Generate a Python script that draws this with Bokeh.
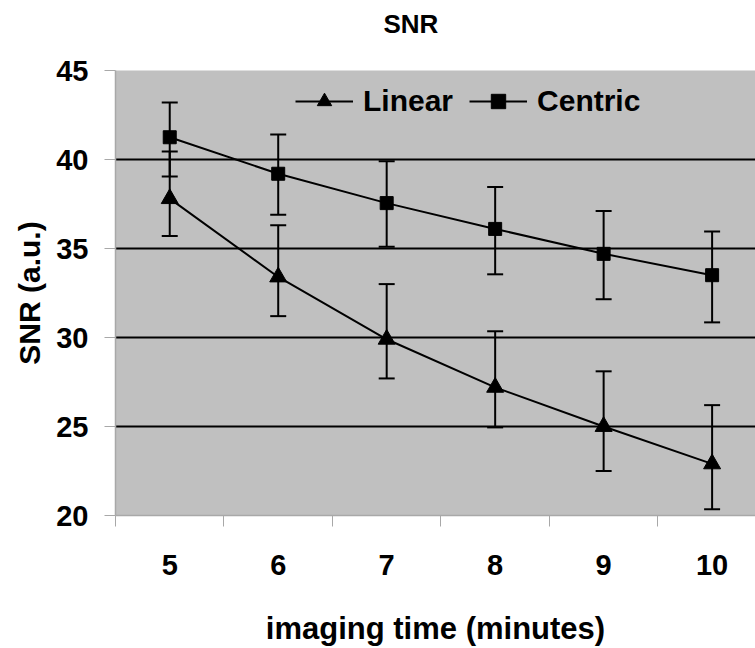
from bokeh.plotting import figure
from bokeh.models import (ColumnDataSource, Range1d, FixedTicker, Whisker, TeeHead,
                          Legend, LegendItem)
from bokeh.embed import file_html
from bokeh.resources import INLINE

# ---- data ----
times = [5, 6, 7, 8, 9, 10]
tick_labels = ["5", "6", "7", "8", "9", "10"]
linear = [37.8, 33.4, 29.9, 27.2, 25.0, 22.9]
linear_hi = [40.45, 36.3, 33.0, 30.35, 28.1, 26.2]
linear_lo = [35.7, 31.2, 27.7, 24.95, 22.5, 20.35]
centric = [41.25, 39.2, 37.55, 36.1, 34.7, 33.5]
centric_hi = [43.2, 41.4, 39.9, 38.45, 37.1, 35.95]
centric_lo = [39.05, 36.9, 35.1, 33.55, 32.15, 30.85]
y_ticks = [20, 25, 30, 35, 40, 45]
grid_ticks = [25, 30, 35, 40]
cat_bounds = [4.5, 5.5, 6.5, 7.5, 8.5, 9.5, 10.5]
title_text = "SNR"

FONT = "Liberation Sans"

src_l = ColumnDataSource(dict(x=times, y=linear, hi=linear_hi, lo=linear_lo))
src_c = ColumnDataSource(dict(x=times, y=centric, hi=centric_hi, lo=centric_lo))

p = figure(width=755, height=648, output_backend="svg", toolbar_location=None,
           x_range=Range1d(4.5, 10.4), y_range=Range1d(20, 45),
           min_border_left=115, min_border_right=0, min_border_top=70,
           min_border_bottom=132)
p.background_fill_color = "#C0C0C0"
p.border_fill_color = "white"
p.outline_line_color = None

# title: a blank second line lifts it higher in the top border
p.title.text = title_text + "\n"
p.title.text_font = FONT
p.title.text_font_size = "26px"
p.title.text_font_style = "bold"
p.title.text_color = "black"
p.title.align = "left"
p.title.offset = 268
p.title.vertical_align = "bottom"
p.title.standoff = 4

# grids
p.xgrid.visible = False
p.ygrid.ticker = FixedTicker(ticks=grid_ticks)
p.ygrid.grid_line_color = "black"
p.ygrid.grid_line_width = 2

# y axis
ya = p.yaxis[0]
ya.ticker = FixedTicker(ticks=y_ticks)
ya.axis_line_color = "#A8A8A8"
ya.axis_line_width = 1.5
ya.major_tick_line_color = "#A8A8A8"
ya.major_tick_out = 11
ya.major_tick_in = 0
ya.minor_tick_line_color = None
ya.major_label_standoff = 16
ya.major_label_text_font = FONT
ya.major_label_text_font_size = "29px"
ya.major_label_text_font_style = "bold"
ya.major_label_text_color = "black"
ya.axis_label = "SNR (a.u.)"
ya.axis_label_text_font = FONT
ya.axis_label_text_font_size = "30px"
ya.axis_label_text_font_style = "bold"
ya.axis_label_text_color = "black"
ya.axis_label_standoff = 7

# x axis
xa = p.xaxis[0]
xa.ticker = FixedTicker(ticks=times, minor_ticks=cat_bounds)
xa.major_label_overrides = {t: s for t, s in zip(times, tick_labels)}
xa.axis_line_color = "#A8A8A8"
xa.axis_line_width = 1.5
xa.major_tick_line_color = None
xa.major_tick_out = 0
xa.major_tick_in = 0
xa.minor_tick_line_color = "#A8A8A8"
xa.minor_tick_out = 11
xa.minor_tick_in = 0
xa.major_label_standoff = 28
xa.major_label_text_font = FONT
xa.major_label_text_font_size = "29px"
xa.major_label_text_font_style = "bold"
xa.major_label_text_color = "black"
xa.axis_label = "imaging time (minutes)"
xa.axis_label_text_font = FONT
xa.axis_label_text_font_size = "31px"
xa.axis_label_text_font_style = "bold"
xa.axis_label_text_color = "black"
xa.axis_label_standoff = 33

# error bars
for src in (src_l, src_c):
    w = Whisker(source=src, base="x", upper="hi", lower="lo", dimension="height",
                line_color="black", line_width=2,
                upper_head=TeeHead(size=16, line_color="black", line_width=2),
                lower_head=TeeHead(size=16, line_color="black", line_width=2))
    p.add_layout(w)

# series
l1 = p.line("x", "y", source=src_l, line_color="black", line_width=2)
m1 = p.scatter("x", "y", source=src_l, marker="triangle", size=17,
               fill_color="black", line_color="black")
l2 = p.line("x", "y", source=src_c, line_color="black", line_width=2)
m2 = p.scatter("x", "y", source=src_c, marker="square", size=13,
               fill_color="black", line_color="black")

legend = Legend(items=[LegendItem(label="Linear", renderers=[l1, m1]),
                       LegendItem(label="Centric", renderers=[l2, m2])],
                location=(180, 396), orientation="horizontal",
                background_fill_alpha=0, border_line_color=None,
                padding=0, margin=0, spacing=16,
                glyph_width=58, glyph_height=36, label_standoff=10,
                label_text_font=FONT, label_text_font_size="30px",
                label_text_font_style="bold", label_text_color="black",
                label_height=30)
p.add_layout(legend, "center")

open("out.html", "w").write(file_html(p, INLINE))
